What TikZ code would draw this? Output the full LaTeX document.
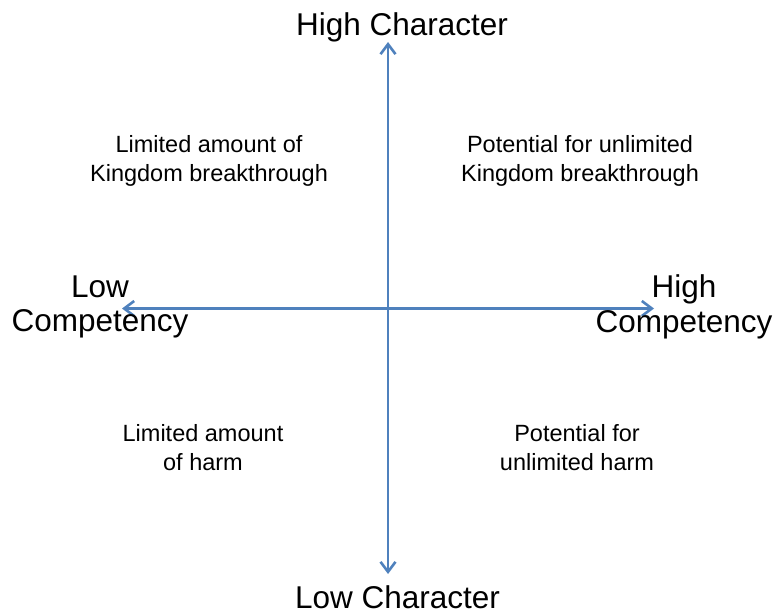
\documentclass[tikz,border=0pt]{standalone}
\usepackage{fontspec}
\setmainfont{Liberation Sans}
\usetikzlibrary{
  positioning,
  arrows.meta
}
\definecolor{axisBlue}{RGB}{79,129,189}

\begin{document}
\begin{tikzpicture}[
    x=1pt,y=-1pt,
    axisLine/.style={draw=axisBlue,line width=2.6pt,
      arrows={Straight Barb[length=10pt,width=15pt]-Straight Barb[length=10pt,width=15pt]}},
    bigLabel/.style={inner sep=0pt,align=center,font=\fontsize{31.5}{34.5}\selectfont},
    smallLabel/.style={inner sep=0pt,align=center,font=\fontsize{23.5}{29}\selectfont},
  ]
    \useasboundingbox (0,0) rectangle (774,615);

    % axis ends
    \coordinate (top) at (388,42);
    \coordinate (bottom) at (388,574);
    \coordinate (left) at (122,308.5);
    \coordinate (right) at (654,308.5);

    \draw[axisLine] (bottom) -- (top);
    \draw[axisLine] (left) -- (right);

    % axis labels
    \node[bigLabel, anchor=base] (highChar) at (402,36) {High Character};
    \node[bigLabel, anchor=base] (lowChar) at (397.5,608) {Low Character};
    \node[bigLabel] (lowComp) at (100,307) {Low\\Competency};
    \node[bigLabel] (highComp) at (684,307) {High\\Competency};

    % quadrant labels
    \node[smallLabel] (topLeft) at (209,160.5) {Limited amount of\\Kingdom breakthrough};
    \node[smallLabel] (topRight) at (580,160.5) {Potential for unlimited\\Kingdom breakthrough};
    \node[smallLabel] (bottomLeft) at (203,448) {Limited amount\\of harm};
    \node[smallLabel] (bottomRight) at (577,448) {Potential for\\unlimited harm};
  \end{tikzpicture}
\end{document}
